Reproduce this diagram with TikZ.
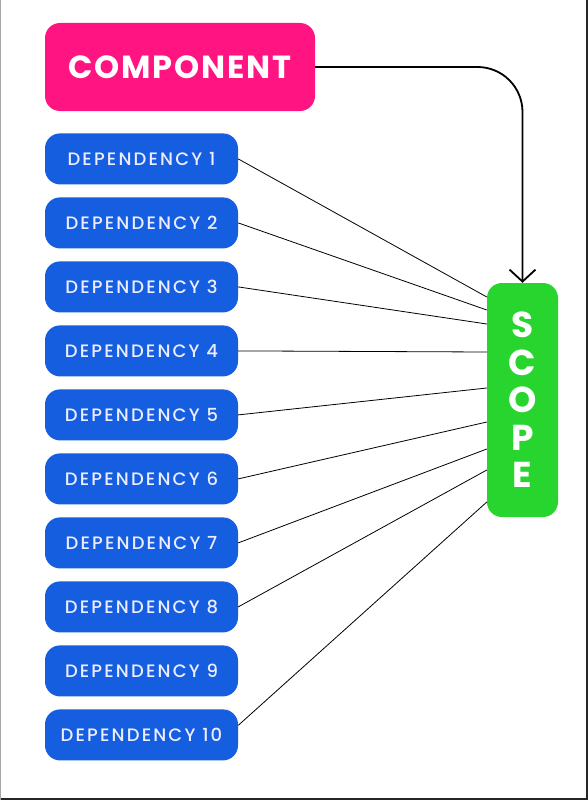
\documentclass[tikz,border=0pt]{standalone}
\usepackage{fontspec}
\usetikzlibrary{arrows.meta,positioning}
\newfontfamily\titlefont[LetterSpace=6]{Poppins}
\newfontfamily\depfont[LetterSpace=12]{Poppins Medium}
\definecolor{hotpink}{RGB}{255,20,130}
\definecolor{depblue}{RGB}{22,94,224}
\definecolor{scopegreen}{RGB}{40,212,46}

\begin{document}
\begin{tikzpicture}[x=1pt,y=1pt,
  compbox/.style={fill=hotpink,rounded corners=15pt,minimum width=270pt,minimum height=88pt,text=white,font=\titlefont\bfseries\fontsize{32}{32}\selectfont},
  depbox/.style={fill=depblue,rounded corners=15pt,minimum width=193pt,minimum height=51pt,text=white!93!blue,font=\depfont\fontsize{18}{18}\selectfont},
  scopebox/.style={fill=scopegreen,rounded corners=15pt,minimum width=71pt,minimum height=234pt,text=white,align=center,font=\titlefont\bfseries\fontsize{36}{37.5}\selectfont},
  link/.style={black,line width=0.8pt},
  flow/.style={-{Straight Barb[length=12pt,width=26pt]},line width=1.8pt,rounded corners=45pt},
  edge line/.style={line width=1.5pt}
]
\useasboundingbox (0,0) rectangle (588,-800);
\node[compbox] (comp) at (180,-67) {COMPONENT};
\node[depbox,below=22pt of comp.south west,anchor=north west] (dep1) {DEPENDENCY 1};
\foreach \i [count=\prev from 1] in {2,...,10}
  \node[depbox,below=12.6pt of dep\prev] (dep\i) {DEPENDENCY \i};
\node[scopebox] (scope) at (522.5,-400) {S\\C\\O\\P\\E};
% dependencies into scope (9 has none)
\foreach \i/\a/\b in {1/0/103,2/0/90,3/0/76,4/0/48,5/0/12,6/0/-22,7/0/-49,8/0/-70,10/9.5/-102}
  \draw[link] ([yshift=\a pt]dep\i.east) -- ([yshift=\b pt]scope.west);
\draw[flow] (comp.east) -| (scope.north);
% frame edges
\draw[edge line,black!85] (587,0) -- (587,-800);
\draw[edge line,black!85] (0,-799) -- (588,-799);
\draw[edge line,black!35] (0.5,0) -- (0.5,-800);
\end{tikzpicture}
\end{document}
